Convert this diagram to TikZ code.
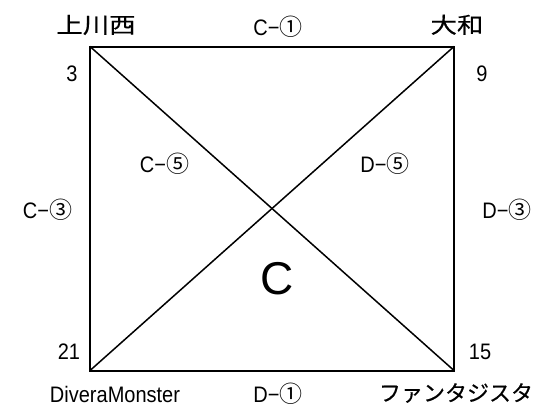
\documentclass[tikz,border=0pt]{standalone}
\usepackage{fontspec}
\setmainfont{Liberation Sans}
\newfontfamily\jp{Noto Sans CJK JP}
\newfontfamily\jpb[FakeBold=0.3]{Noto Sans CJK JP}
\newcommand{\cn}[1]{{\fontsize{23}{26}\selectfont\jp #1}}
\newcommand{\tall}[1]{\scalebox{1}[1.12]{#1}}
\newcommand{\wide}[1]{\scalebox{1.2}[1]{#1}}
\begin{document}
\begin{tikzpicture}[x=1pt,y=-1pt,
  lbl/.style={inner sep=0pt,font=\fontsize{20}{24}\selectfont,text height=16pt,text depth=0pt},
  jlbl/.style={inner sep=0pt,font=\fontsize{22}{26}\selectfont\jpb,text height=16.2pt,text depth=0pt},
  big/.style={inner sep=0pt,font=\fontsize{46}{50}\selectfont,text height=33pt,text depth=0pt},
  frame/.style={line width=2pt},
  diag/.style={line width=1.5pt}]
\useasboundingbox (0,0) rectangle (540,408);
\fill[white] (0,0) rectangle (540,408);
\coordinate (TL) at (90,46.5);
\coordinate (TR) at (454,46.5);
\coordinate (BL) at (90,370.5);
\coordinate (BR) at (454,370.5);
\draw[frame,line join=miter] (TL) -- (TR) -- (BR) -- (BL) -- cycle;
\draw[diag] (TL) -- (BR);
\draw[diag] (TR) -- (BL);
\node[jlbl] (kamikawanishi) at (96,25) {\wide{上川西}};
\node[lbl] (c1) at (278,27) {\tall{C−}\cn{①}};
\node[jlbl] (yamato) at (457,25) {\wide{大和}};
\node[lbl] (n3) at (72,73.5) {\tall{3}};
\node[lbl] (n9) at (482,73.5) {\tall{9}};
\node[lbl] (c5) at (164.5,164) {\tall{C−}\cn{⑤}};
\node[lbl] (d5) at (385,164) {\tall{D−}\cn{⑤}};
\node[lbl] (c3) at (47.5,210) {\tall{C−}\cn{③}};
\node[lbl] (d3) at (507,210) {\tall{D−}\cn{③}};
\node[big] (bigc) at (277,278) {C};
\node[lbl] (n21) at (69,351) {\tall{21}};
\node[lbl] (n15) at (480,351) {\tall{15}};
\node[lbl] (divera) at (115,394) {\tall{DiveraMonster}};
\node[lbl] (d1) at (278,394) {\tall{D−}\cn{①}};
\node[jlbl] (fanta) at (456,393) {ファンタジスタ};
\end{tikzpicture}
\end{document}
